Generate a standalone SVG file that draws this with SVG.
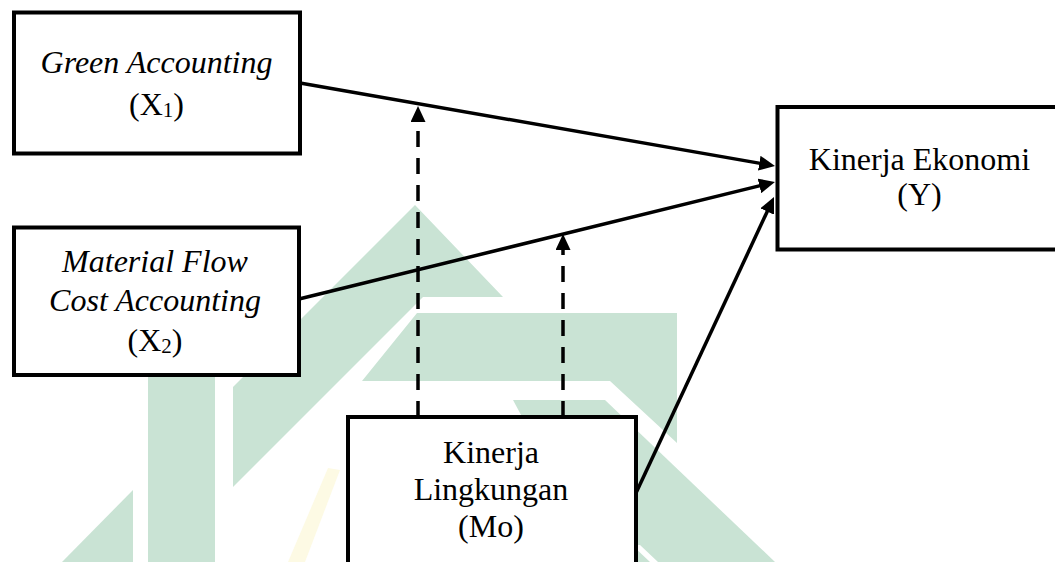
<svg xmlns="http://www.w3.org/2000/svg" width="1055" height="562" viewBox="0 0 1055 562">
  <style>
    .box { fill: #ffffff; stroke: #000000; stroke-width: 4; }
    .lbl { font-family: "Liberation Serif", "Times New Roman", serif; font-size: 32px; fill: #000000; text-anchor: middle; }
    .it { font-style: italic; }
    .sub { font-size: 21px; }
    .edge { stroke: #000000; stroke-width: 3.5; fill: none; }
    .dash { stroke: #000000; stroke-width: 3.5; fill: none; stroke-dasharray: 16 11; }
    .wm { fill: #c9e3d4; }
  </style>
  <defs>
    <marker id="arrow" markerUnits="userSpaceOnUse" markerWidth="16" markerHeight="15" viewBox="0 0 16 15" refX="4" refY="7.5" orient="auto">
      <path d="M0,0 L16,7.5 L0,15 Z" fill="#000000"/>
    </marker>
  </defs>
  <rect width="1055" height="562" fill="#ffffff"/>

  <g id="watermark">
    <polygon class="wm" points="415,205 503,297 423,297 233,487 233,387"/>
    <rect class="wm" x="148" y="340" width="67" height="222"/>
    <polygon class="wm" points="133,490 133,562 62,562"/>
    <polygon class="wm" points="417,313 677,313 677,443 610,381 362,381"/>
    <polygon class="wm" points="513,400 605,400 775,562 600,562"/>
    <polygon fill="#ffffff" points="632,545 640,545 658,562 650,562"/>
    <polygon fill="#fdfae4" points="328,468 340,470 305,562 288,562"/>
  </g>

  <g id="connectors">
    <line class="edge" x1="300" y1="83" x2="763.2" y2="163.9" marker-end="url(#arrow)"/>
    <line class="edge" x1="299" y1="299" x2="763.3" y2="184.9" marker-end="url(#arrow)"/>
    <line class="edge" x1="636" y1="493" x2="768.9" y2="207.9" marker-end="url(#arrow)"/>
    <line class="dash" x1="418" y1="417" x2="418" y2="118" marker-end="url(#arrow)"/>
    <line class="dash" x1="563" y1="417" x2="563" y2="246" marker-end="url(#arrow)"/>
  </g>

  <g id="node-x1">
    <rect class="box" x="14" y="12.5" width="286" height="141"/>
    <text class="lbl it" x="156.5" y="73">Green Accounting</text>
    <text class="lbl" x="156.5" y="115">(X<tspan class="sub" dy="2">1</tspan><tspan dy="-2">)</tspan></text>
  </g>

  <g id="node-x2">
    <rect class="box" x="14" y="227.5" width="285" height="147.5"/>
    <text class="lbl it" x="155" y="272">Material Flow</text>
    <text class="lbl it" x="155" y="311">Cost Accounting</text>
    <text class="lbl" x="155" y="351">(X<tspan class="sub" dy="2">2</tspan><tspan dy="-2">)</tspan></text>
  </g>

  <g id="node-mo">
    <rect class="box" x="348" y="417" width="288" height="200"/>
    <text class="lbl" x="491" y="463">Kinerja</text>
    <text class="lbl" x="491" y="500">Lingkungan</text>
    <text class="lbl" x="491" y="537">(Mo)</text>
  </g>

  <g id="node-y">
    <rect class="box" x="777.5" y="107" width="290" height="142.5"/>
    <text class="lbl" x="919.5" y="169.5">Kinerja Ekonomi</text>
    <text class="lbl" x="919.5" y="205">(Y)</text>
  </g>
</svg>
